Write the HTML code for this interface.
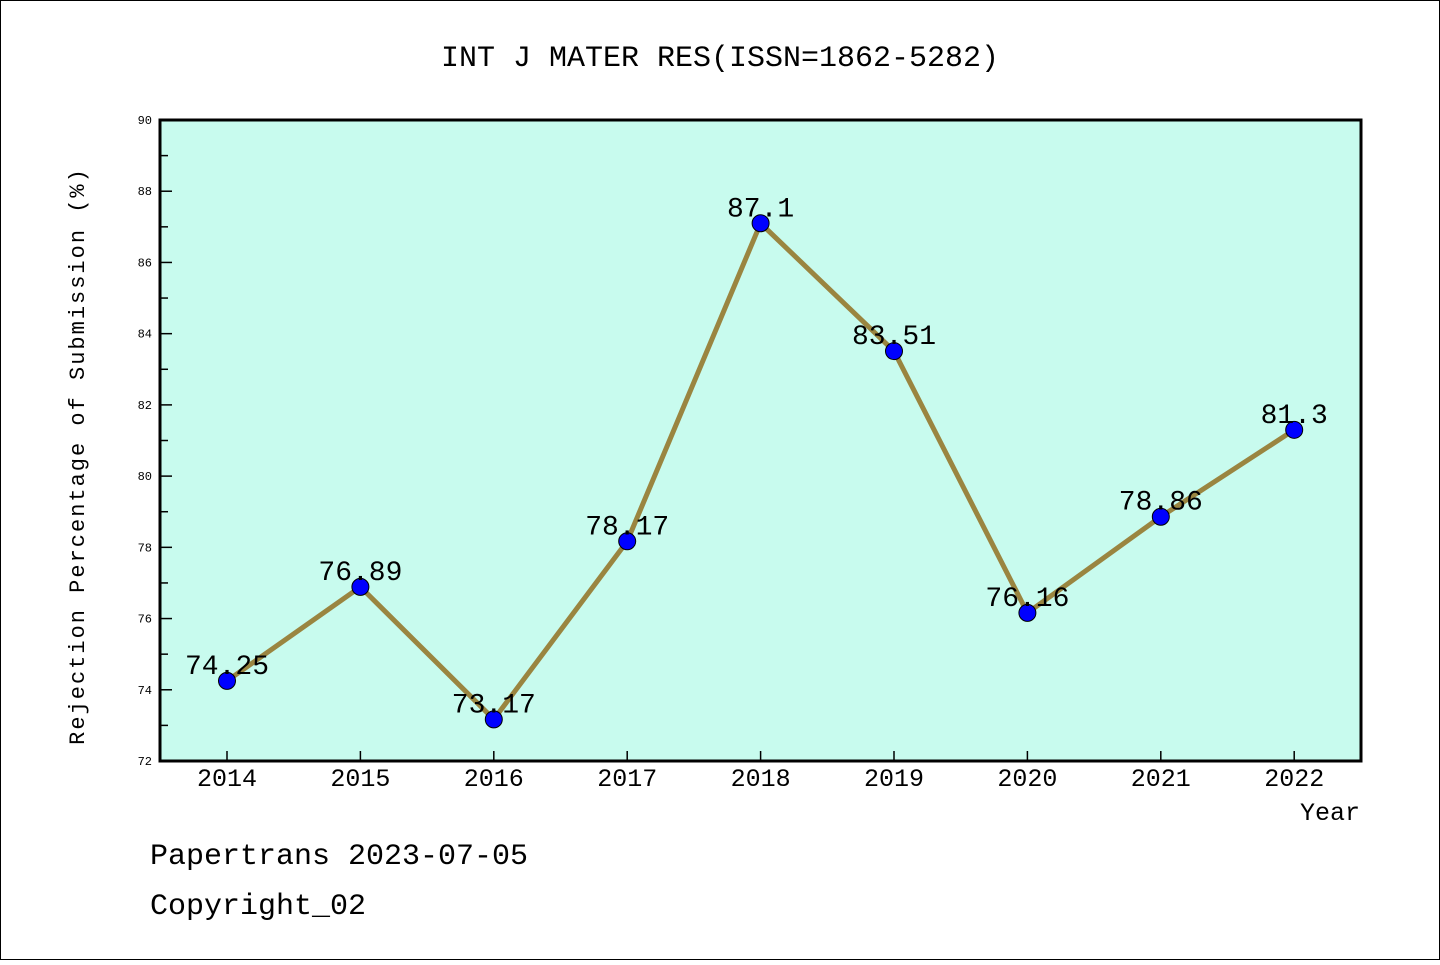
<!DOCTYPE html>
<html><head><meta charset="utf-8"><style>
body{margin:0;background:#fff}
svg text{font-family:"Liberation Mono",monospace}
</style></head><body>
<svg width="1440" height="960">
<rect x="0.5" y="0.5" width="1439" height="959" fill="#fff" stroke="#000"/>
<text x="720" y="66" font-size="30" text-anchor="middle">INT J MATER RES(ISSN=1862-5282)</text>
<rect x="160" y="120" width="1201" height="641" fill="#c8fbee"/>
<g id="axes"></g>
<g id="marks"></g>
<rect x="160" y="120" width="1201" height="641" fill="none" stroke="#000" stroke-width="3"/>
<text x="0" y="0" font-size="22" transform="translate(84,456) rotate(-90)" text-anchor="middle" letter-spacing="2">Rejection Percentage of Submission (%)</text>
<text x="1360" y="820" font-size="25" text-anchor="end">Year</text>
<text x="150" y="864" font-size="30">Papertrans 2023-07-05</text>
<text x="150" y="914" font-size="30">Copyright_02</text>
</svg>
<script>
const years=["2014","2015","2016","2017","2018","2019","2020","2021","2022"];
const rates=[74.25,76.89,73.17,78.17,87.1,83.51,76.16,78.86,81.3];
const labels=["74.25","76.89","73.17","78.17","87.1","83.51","76.16","78.86","81.3"];
const yTicks=[72,74,76,78,80,82,84,86,88,90];
const NS="http://www.w3.org/2000/svg";
const x0=227,dx=133.4,yTop=120,yBot=761,yMin=72,yMax=90;
const xs=i=>x0+i*dx;
const ys=v=>yBot-(v-yMin)/(yMax-yMin)*(yBot-yTop);
function mk(t,a,p){const e=document.createElementNS(NS,t);for(const k in a)e.setAttribute(k,a[k]);p.appendChild(e);return e;}
const axes=document.getElementById('axes'),marks=document.getElementById('marks');
yTicks.forEach((v,i)=>{
  const l=mk('line',{x1:160,x2:172,y1:ys(v),y2:ys(v),stroke:'#000','stroke-width':1.5},axes);
  
  
  if(i<yTicks.length-1){const m=mk('line',{x1:160,x2:168,y1:ys(v+1),y2:ys(v+1),stroke:'#000','stroke-width':1.5},axes);
  
  }
  const t=mk('text',{x:152,y:ys(v)+4,'font-size':12,'text-anchor':'end'},axes);t.textContent=v;
  
  
});
years.forEach((y,i)=>{
  const l=mk('line',{x1:xs(i),x2:xs(i),y1:761,y2:751,stroke:'#000','stroke-width':1.5},axes);
  
  
  const t=mk('text',{x:xs(i),y:786,'font-size':25,'text-anchor':'middle'},axes);t.textContent=y;
  
  
});
const pl=mk('polyline',{points:rates.map((v,i)=>xs(i)+','+ys(v)).join(' '),fill:'none',stroke:'#9a8540','stroke-width':5},marks);


rates.forEach((v,i)=>{
  const c=mk('circle',{cx:xs(i),cy:ys(v),r:8.5,fill:'#0000ff',stroke:'#000','stroke-width':1},marks);
  
  
});
rates.forEach((v,i)=>{
  const t=mk('text',{x:xs(i),y:ys(v)-7,'font-size':28,'text-anchor':'middle'},marks);t.textContent=labels[i];
  
  
});
</script>
</body></html>
